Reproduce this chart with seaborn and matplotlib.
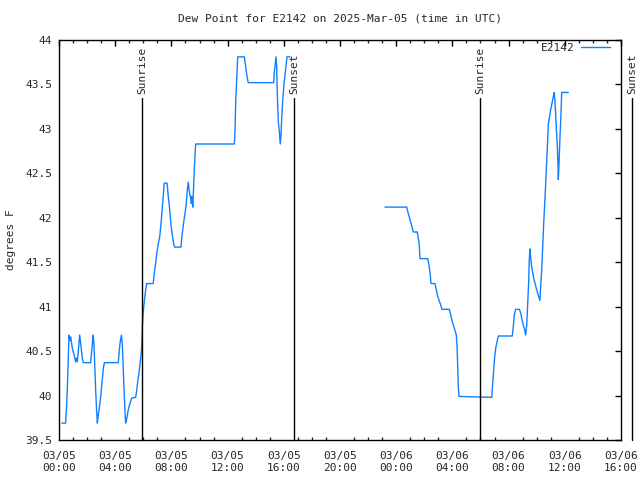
import numpy as np
import pandas as pd
import matplotlib
matplotlib.use("Agg")
import matplotlib.pyplot as plt
import matplotlib.dates as mdates
import matplotlib.transforms as mtransforms
from matplotlib.lines import Line2D
import seaborn as sns

# ---- data (hours after 2025-03-05 00:00 UTC, dew point in F) ----
seg1_hours = [0.21, 0.47, 0.52, 0.59, 0.64, 0.71, 0.78, 0.83, 0.95, 1.07, 1.19, 1.23, 1.30, 1.38,
              1.47, 1.54, 1.66, 1.73, 2.25, 2.33, 2.40, 2.44, 2.49, 2.61, 2.68, 2.73, 2.78, 2.85,
              2.97, 3.08, 3.16, 3.23, 4.22, 4.29, 4.37, 4.44, 4.51, 4.63, 4.70, 4.74, 4.82, 4.93,
              5.05, 5.17, 5.46, 5.53, 5.62, 5.69, 5.77, 5.86, 5.90, 5.93, 5.98, 6.07, 6.17, 6.24,
              6.71, 6.78, 6.88, 6.98, 7.07, 7.17, 7.24, 7.31, 7.40, 7.49, 7.69, 7.78, 7.88, 7.97,
              8.06, 8.16, 8.23, 8.68, 8.75, 8.85, 8.95, 9.04, 9.13, 9.20, 9.27, 9.37, 9.42, 9.47,
              9.52, 9.56, 9.61, 9.68, 9.73, 12.48, 12.53, 12.58, 12.65, 12.72, 13.19, 13.29, 13.36,
              13.43, 13.47, 15.28, 15.32, 15.37, 15.44, 15.49, 15.54, 15.61, 15.68, 15.75, 15.80,
              15.85, 15.92, 16.01, 16.14, 16.23, 16.44]
seg1_values = [39.69, 39.69, 39.82, 40.06, 40.31, 40.68, 40.62, 40.66, 40.53, 40.46, 40.38, 40.42, 40.38, 40.51,
               40.68, 40.59, 40.42, 40.37, 40.37, 40.51, 40.62, 40.68, 40.57, 40.06, 39.82, 39.69, 39.76, 39.84,
               39.99, 40.18, 40.31, 40.37, 40.37, 40.51, 40.62, 40.68, 40.57, 40.06, 39.82, 39.69, 39.74, 39.84,
               39.91, 39.97, 39.98, 40.06, 40.18, 40.25, 40.36, 40.49, 40.62, 40.77, 40.91, 41.06, 41.19, 41.26,
               41.26, 41.38, 41.49, 41.62, 41.71, 41.79, 41.90, 42.03, 42.20, 42.39, 42.39, 42.24, 42.09, 41.92,
               41.81, 41.71, 41.67, 41.67, 41.79, 41.92, 42.03, 42.13, 42.31, 42.40, 42.30, 42.22, 42.16, 42.24,
               42.12, 42.27, 42.46, 42.71, 42.83, 42.83, 42.99, 43.32, 43.57, 43.81, 43.81, 43.70, 43.61,
               43.55, 43.52, 43.52, 43.64, 43.70, 43.81, 43.71, 43.38, 43.08, 42.97, 42.83, 42.93,
               43.12, 43.31, 43.50, 43.68, 43.81, 43.81]

seg2_hours = [23.20, 24.75, 24.82, 24.93, 25.05, 25.15, 25.22, 25.50, 25.57, 25.64, 25.69, 26.24, 26.31,
              26.41, 26.48, 26.76, 26.83, 26.93, 27.07, 27.17, 27.26, 27.78, 27.88, 27.99, 28.11, 28.21,
              28.28, 28.33, 28.38, 28.42, 28.47, 30.80, 30.87, 30.94, 31.01, 31.10, 31.20, 31.27, 32.26,
              32.33, 32.41, 32.50, 32.76, 32.86, 32.95, 33.05, 33.14, 33.21, 33.29, 33.36, 33.43, 33.47,
              33.52, 33.57, 33.64, 33.76, 33.88, 34.00, 34.11, 34.23, 34.28, 34.36, 34.43, 34.50, 34.59,
              34.69, 34.78, 34.83, 34.90, 34.99, 35.09, 35.18, 35.25, 35.32, 35.39, 35.47, 35.52, 35.54,
              35.59, 35.66, 35.73, 35.78, 36.25]
seg2_values = [42.12, 42.12, 42.07, 42.01, 41.94, 41.88, 41.84, 41.84, 41.77, 41.70, 41.54, 41.54, 41.49,
               41.38, 41.26, 41.26, 41.21, 41.13, 41.06, 41.02, 40.97, 40.97, 40.91, 40.83, 40.77, 40.72,
               40.68, 40.55, 40.32, 40.10, 39.99, 39.98, 40.14, 40.29, 40.44, 40.55, 40.62, 40.67, 40.67,
               40.77, 40.91, 40.97, 40.97, 40.93, 40.86, 40.79, 40.74, 40.68, 40.79, 41.04, 41.28, 41.52,
               41.65, 41.56, 41.45, 41.34, 41.26, 41.19, 41.13, 41.07, 41.22, 41.43, 41.69, 41.94, 42.22,
               42.56, 42.87, 43.06, 43.12, 43.21, 43.29, 43.36, 43.41, 43.25, 43.03, 42.80, 42.56, 42.43,
               42.62, 42.92, 43.18, 43.41, 43.41]

sun_labels = ["Sunrise", "Sunset", "Sunrise", "Sunset"]
sun_times = ["2025-03-05 05:56", "2025-03-05 16:44", "2025-03-06 05:59", "2025-03-06 16:47"]

y_ticks = [39.5, 40, 40.5, 41, 41.5, 42, 42.5, 43, 43.5, 44]
y_ticklabels = ["39.5", "40", "40.5", "41", "41.5", "42", "42.5", "43", "43.5", "44"]

station = "E2142"
title = "Dew Point for E2142 on 2025-Mar-05 (time in UTC)"
ylabel = "degrees F"

# ---- build table ----
base = pd.Timestamp("2025-03-05 00:00")
df = pd.DataFrame({
    "time": [base + pd.Timedelta(hours=h) for h in seg1_hours + seg2_hours],
    "dewpoint": seg1_values + seg2_values,
    "seg": [1] * len(seg1_hours) + [2] * len(seg2_hours),
})

sns.set_style("white")
plt.rcParams["font.family"] = ["DejaVu Sans Mono", "DejaVu Sans"]
plt.rcParams["font.size"] = 8

fig = plt.figure(figsize=(6.4, 4.8), dpi=100)
ax = fig.add_axes([59 / 640, 40 / 480, 562 / 640, 400 / 480])

line_color = "#1080ff"
sns.lineplot(data=df, x="time", y="dewpoint", units="seg", estimator=None,
             color=line_color, linewidth=1.0, ax=ax, legend=False)

ax.set_xlim(base, base + pd.Timedelta(hours=40))
ax.set_ylim(39.5, 44)

# sunrise / sunset markers
trans = mtransforms.blended_transform_factory(ax.transData, ax.transAxes)
for lab, t in zip(sun_labels, sun_times):
    tx = mdates.date2num(pd.Timestamp(t))
    ax.plot([tx, tx], [0, 0.855], color="black", lw=1.0, transform=trans, clip_on=False)
    ax.text(tx, 0.866, lab, rotation=90, ha="center", va="bottom", transform=trans,
            clip_on=False, fontsize=8)

# axes styling
ax.xaxis.set_major_locator(mdates.HourLocator(byhour=range(0, 24, 4)))
ax.xaxis.set_minor_locator(mdates.HourLocator())
ax.xaxis.set_major_formatter(mdates.DateFormatter("%m/%d\n%H:%M"))
ax.set_yticks(y_ticks)
ax.set_yticklabels(y_ticklabels)
ax.tick_params(axis="both", which="major", direction="in", length=4, width=1,
               top=True, right=True, labelsize=8, color="black")
ax.tick_params(axis="x", which="minor", direction="in", length=2, width=1, top=True, bottom=True)
ax.tick_params(axis="x", which="major", pad=8)
ax.tick_params(axis="y", which="major", pad=5)
for s in ax.spines.values():
    s.set_visible(True)
    s.set_color("black")
    s.set_linewidth(1.0)

ax.set_xlabel("")
ax.set_ylabel(ylabel, fontsize=8)
ax.yaxis.set_label_coords(-43 / 562, 0.5)
ax.set_title(title, fontsize=8, pad=13)

# legend (text then line sample)
h = Line2D([], [], color=line_color, lw=1.0)
ax.legend([h], [station], loc="upper right", frameon=False, markerfirst=False,
          handlelength=2.6, handletextpad=0.6, borderaxespad=0.0, borderpad=0.0,
          bbox_to_anchor=(1 - 11 / 562, 1 - 3 / 400), fontsize=8)

fig.savefig("out.png", dpi=100, facecolor="white")
